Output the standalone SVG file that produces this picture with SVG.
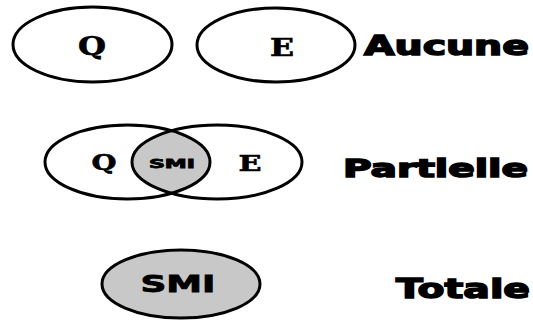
<svg xmlns="http://www.w3.org/2000/svg" width="533" height="322" viewBox="0 0 533 322">
<style>
.set{fill:none;stroke:#000;stroke-width:3}
.shade{fill:#c8c8c8;stroke:#000;stroke-width:3}
.letter{font-family:"DejaVu Serif","Liberation Serif",serif;font-weight:bold;fill:#000;stroke:#000;stroke-width:0.6;text-anchor:middle}
.smi{font-family:"DejaVu Sans","Liberation Sans",sans-serif;font-weight:900;fill:#000;stroke:#000;stroke-width:0.8;text-anchor:middle}
.label{font-family:"DejaVu Sans","Liberation Sans",sans-serif;font-weight:900;fill:#000;stroke:#000;stroke-width:1.5}
</style>
<rect width="533" height="322" fill="#fff"/>
<g id="aucune">
  <g id="Q1"><ellipse class="set" cx="92.5" cy="44.5" rx="79.5" ry="37.5"/><text class="letter" x="92" y="55" font-size="26" textLength="28" lengthAdjust="spacingAndGlyphs">Q</text></g>
  <g id="E1"><ellipse class="set" cx="276" cy="45" rx="79" ry="37"/><text class="letter" x="282" y="55.5" font-size="24" textLength="24" lengthAdjust="spacingAndGlyphs">E</text></g>
  <text id="lbl-aucune" class="label" x="364" y="55" font-size="27" textLength="165" lengthAdjust="spacingAndGlyphs">Aucune</text>
</g>
<g id="partielle">
  <defs><clipPath id="cl"><ellipse cx="127.5" cy="162" rx="82.5" ry="37"/></clipPath></defs>
  <ellipse cx="217" cy="162" rx="85" ry="37" fill="#c8c8c8" clip-path="url(#cl)"/>
  <g id="Q2"><ellipse class="set" cx="127.5" cy="162" rx="82.5" ry="37"/><text class="letter" x="104" y="170" font-size="23" textLength="25" lengthAdjust="spacingAndGlyphs">Q</text></g>
  <g id="E2"><ellipse class="set" cx="217" cy="162" rx="85" ry="37"/><text class="letter" x="250" y="170.5" font-size="23" textLength="23" lengthAdjust="spacingAndGlyphs">E</text></g>
  <text class="smi" x="172" y="168" font-size="12" textLength="46" lengthAdjust="spacingAndGlyphs">SMI</text>
  <text id="lbl-partielle" class="label" x="343" y="177" font-size="25" textLength="185" lengthAdjust="spacingAndGlyphs">Partielle</text>
</g>
<g id="totale">
  <g id="SMI"><ellipse class="shade" cx="181" cy="284" rx="79" ry="34"/><text class="smi" x="178" y="292" font-size="23" textLength="75" lengthAdjust="spacingAndGlyphs">SMI</text></g>
  <text id="lbl-totale" class="label" x="396" y="298" font-size="27" textLength="134" lengthAdjust="spacingAndGlyphs">Totale</text>
</g>
</svg>
